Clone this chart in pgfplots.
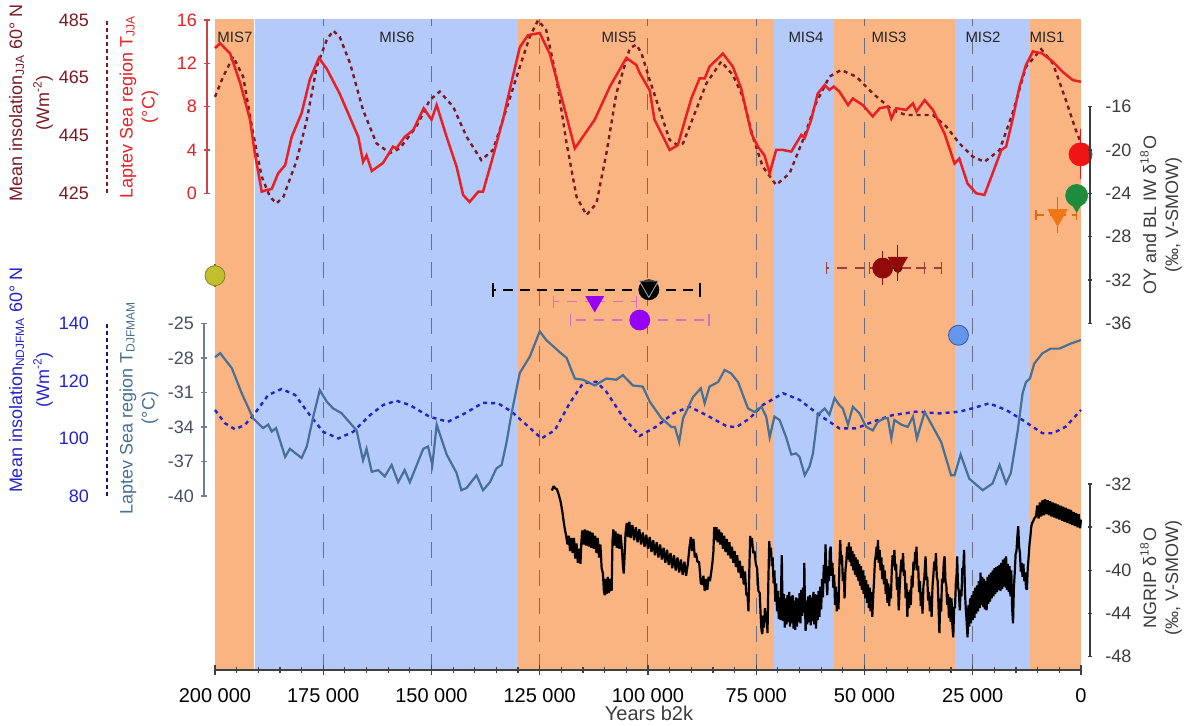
\documentclass[border=0pt]{standalone}
\usepackage{pgfplots}
\pgfplotsset{compat=1.18}
\usepackage{fontspec}
\setmainfont{Liberation Sans}
\definecolor{misO}{RGB}{250,180,130}
\definecolor{misB}{RGB}{180,202,250}
\definecolor{tred}{RGB}{232,32,36}
\definecolor{tredax}{RGB}{200,70,70}
\definecolor{insred}{RGB}{125,25,35}
\definecolor{tblue}{RGB}{70,112,150}
\definecolor{tblueax}{RGB}{110,128,150}
\definecolor{tbluelab}{RGB}{70,80,100}
\definecolor{insblue}{RGB}{35,35,205}
\definecolor{gridc}{RGB}{105,110,130}
\definecolor{axg}{RGB}{60,60,60}
\definecolor{mred}{RGB}{240,20,20}
\definecolor{mgreen}{RGB}{30,140,60}
\definecolor{morange}{RGB}{240,120,20}
\definecolor{myellow}{RGB}{195,190,45}
\definecolor{mpurple}{RGB}{150,0,245}
\definecolor{mpink}{RGB}{215,110,205}
\definecolor{mmaroon}{RGB}{145,10,10}
\definecolor{mlblue}{RGB}{100,150,240}
\pgfplotsset{
  lay/.style={at={(107.5pt,-335pt)}, anchor=south west, scale only axis,
    width=433pt, height=325.5pt, xmin=0, xmax=200, x dir=reverse, hide axis, clip=false},
  deco/.style={anchor=south west, scale only axis, width=1pt, xmin=0, xmax=1,
    hide x axis, tick align=outside, /pgf/number format/assume math mode=true,
    yticklabel style={font=\fontsize{9}{10}\selectfont}},
}
\begin{document}
\begin{tikzpicture}
\path[use as bounding box] (0pt,0pt) rectangle (592pt,-362.5pt);
% ---------- base: backgrounds, grid, x axis
\begin{axis}[at={(107.5pt,-335pt)}, anchor=south west, scale only axis,
  width=433pt, height=325.5pt, xmin=0, xmax=200, x dir=reverse, ymin=0, ymax=1,
  axis x line=bottom, axis y line=none, axis on top,
  xtick={0,25,...,200},
  xticklabels={0,25 000,50 000,75 000,100 000,125 000,150 000,175 000,200 000},
  minor x tick num=4, tick align=center, major tick length=5pt, minor tick length=3pt,
  x axis line style={-, line width=0.8pt, black!75},
  tick style={black!75, line width=0.6pt},
  xticklabel style={font=\fontsize{10}{12}\selectfont, yshift=-3pt}]
\addplot[fill=misO, draw=none] coordinates {(200,0) (191,0) (191,1) (200,1)} -- cycle;
\addplot[fill=misB, draw=none] coordinates {(190.8,0) (130,0) (130,1) (190.8,1)} -- cycle;
\addplot[fill=misO, draw=none] coordinates {(130,0) (71,0) (71,1) (130,1)} -- cycle;
\addplot[fill=misB, draw=none] coordinates {(71,0) (57,0) (57,1) (71,1)} -- cycle;
\addplot[fill=misO, draw=none] coordinates {(57,0) (29,0) (29,1) (57,1)} -- cycle;
\addplot[fill=misB, draw=none] coordinates {(29,0) (11.7,0) (11.7,1) (29,1)} -- cycle;
\addplot[fill=misO, draw=none] coordinates {(11.7,0) (0,0) (0,1) (11.7,1)} -- cycle;
\addplot[gridc, line width=0.5pt, dash pattern=on 8pt off 6pt] coordinates {(175,0) (175,1)};
\addplot[gridc, line width=0.5pt, dash pattern=on 8pt off 6pt] coordinates {(150,0) (150,1)};
\addplot[gridc, line width=0.5pt, dash pattern=on 8pt off 6pt] coordinates {(125,0) (125,1)};
\addplot[gridc, line width=0.5pt, dash pattern=on 8pt off 6pt] coordinates {(100,0) (100,1)};
\addplot[gridc, line width=0.5pt, dash pattern=on 8pt off 6pt] coordinates {(75,0) (75,1)};
\addplot[gridc, line width=0.5pt, dash pattern=on 8pt off 6pt] coordinates {(50,0) (50,1)};
\addplot[gridc, line width=0.5pt, dash pattern=on 8pt off 6pt] coordinates {(25,0) (25,1)};
\end{axis}
% ---------- insolation JJA (dotted)
\begin{axis}[lay, ymin=259.95, ymax=485.35]
\addplot[insred, line width=1.2pt, dash pattern=on 2pt off 2pt] coordinates {
(200,458.4) (198.1,465.4) (195.8,472.3) (193.5,465.4) (191.2,445.8) (189.2,430.7)
(187.3,423.8) (185.8,421.5) (184.2,423.8) (181.1,436.5) (178.8,450.4) (176.5,468.8)
(174.2,478.1) (172.7,481.3) (171.2,479.2) (168.8,470.0) (165.8,453.8) (162.7,442.3)
(159.6,438.9) (157.3,440.6) (153.5,448.1) (150.4,457.3) (148.1,460.2) (145,455.0)
(141.9,444.6) (138.5,436.5) (135.8,440.0) (133.5,450.4) (129.6,468.8) (127.3,479.2)
(125.4,484.9) (123.5,481.5) (121.2,465.4) (118.8,442.3) (116.5,423.8) (114.2,417.5)
(111.9,421.5) (109.6,438.9) (107.3,459.6) (104.2,475.2) (102.7,476.5) (101.5,473.5)
(99.6,464.2) (97.3,453.8) (95.0,443.5) (93.2,441.7) (91.9,442.3) (89.2,452.7)
(86.5,463.1) (83.1,470.6) (80.4,466.0) (78.1,458.4) (75.8,444.6) (73.5,434.2)
(70.4,427.9) (67.3,431.9) (64.2,443.5) (61.2,456.2) (58.1,465.4) (55.4,467.7)
(51.9,465.4) (48.1,459.6) (43.5,453.8) (40.4,452.1) (34.2,452.1) (31.1,448.1)
(28.1,442.3) (25,437.7) (22.3,435.9) (18.8,440.0) (15.8,452.7) (12.7,468.8)
(9.2,474.9) (6.5,470.0) (3.5,457.3) (1.2,446.9) (0,442.3)};
\end{axis}
% ---------- Laptev T JJA (solid red)
\begin{axis}[lay, ymin=-44.017, ymax=16.094]
\addplot[tred, line width=1.25pt] coordinates {
(200,13.4) (198.8,13.85) (196.5,12.9) (194.2,10.2) (191.9,6.8) (190.8,3.7)
(189.2,0.15) (188.1,0.3) (186.9,0.4) (185.4,1.85) (183.8,2.6) (182.3,5.2)
(180,7.4) (178.1,10.5) (176,12.5) (174.2,11.5) (171.2,9.2) (166.9,5.2)
(165.8,2.9) (165,3.5) (163.8,2.06) (161.2,2.8) (158.9,4.3) (158.1,4.15)
(156.2,5.2) (154.2,5.85) (151.8,7.85) (150,6.8) (148.8,8.15) (146.5,5.2)
(144.2,2.45) (142.7,-0.15) (141.2,-0.8) (139.2,0.15) (138.1,0.15) (135.8,3.4)
(133.5,6.8) (131.5,10.3) (129.6,13.5) (127.7,14.6) (125,14.8) (122.7,12.9)
(119.6,8.3) (116.9,4.15) (112.3,6.8) (108.8,9.85) (105,12.5) (102.7,11.85)
(101.9,11.1) (99.6,9.5) (98.5,6.8) (95,4.0) (93.1,4.45) (91.9,6.15) (90,8.75)
(88.1,10.6) (86.9,10.6) (85.8,11.7) (82.7,12.9) (80.4,11.7) (78.5,9.7)
(76.1,5.5) (74.6,4.3) (73.1,3.5) (71.9,1.85) (70.4,4.0) (68.8,4.0) (66.9,3.85)
(64.6,5.4) (63.8,5.1) (62.3,6.8) (60.8,9.2) (59.2,10.0) (58.1,9.55) (57.1,9.85)
(55.8,9.4) (53.8,8.15) (52.7,8.75) (50.4,8.15) (48.1,7.1) (46.5,7.85) (44.6,8.0)
(43.8,6.9) (42.7,7.85) (40.4,7.7) (38.8,8.3) (38,7.55) (36.1,8.6) (34.2,7.7)
(31.5,5.5) (29.2,2.75) (28.1,3.2) (26.2,0.9) (24.2,0) (22.3,-0.15) (20.4,1.85)
(18.4,4.0) (17.3,4.3) (15.8,6.8) (14.2,9.85) (12.7,11.85) (11.1,13.1) (8.9,12.9)
(6.5,12.15) (4.2,11.2) (1.9,10.45) (0,10.3)};
\end{axis}
% ---------- insolation NDJFMA (dotted blue)
\begin{axis}[lay, ymin=19.55, ymax=245.72]
\addplot[insblue, line width=1.2pt, dash pattern=on 2pt off 2pt] coordinates {
(200,109.9) (197.7,105.3) (195.4,103.2) (193.1,104.7) (190.8,108.7) (187.7,115.1)
(184.6,117.2) (181.5,115.1) (178.1,108.1) (175,102.3) (171.5,100.0) (168.1,102.3)
(164.2,108.1) (161.2,111.6) (158.1,113.1) (155,111.6) (150.4,107.5) (146.2,105.8)
(142.3,108.7) (138.1,112.4) (134.6,112.2) (131.5,109.3) (128.5,105.3) (124.6,100.0)
(121.5,102.9) (118.1,112.2) (115,119.2) (111.9,119.7) (109.6,116.2) (105.8,107.5)
(101.9,100.9) (98.1,104.1) (94.2,108.7) (90.4,111.0) (86.5,108.1) (81.9,104.3)
(79.6,103.9) (76.5,107.0) (73.5,111.6) (68.8,115.7) (65,113.4) (60.4,108.1)
(55.8,103.5) (51.9,103.5) (48.1,105.8) (43.5,108.1) (38.1,109.3) (32.7,108.7)
(28.1,109.3) (25,110.5) (21.2,112.2) (17.3,109.9) (13.5,106.4) (8.9,101.8)
(6.5,101.8) (3.5,104.1) (0,109.9)};
\end{axis}
% ---------- Laptev T DJFMAM (steel blue)
\begin{axis}[lay, ymin=-55.114, ymax=1.431]
\addplot[tblue, line width=1.1pt] coordinates {
(200,-27.95) (198.8,-27.6) (196.1,-28.9) (193.8,-31.1) (191.2,-33.25) (188.9,-34.1)
(187.7,-33.8) (186.9,-34.4) (185.9,-34.1) (183.8,-36.6) (182.7,-35.9) (180,-36.7)
(178.8,-35.7) (177.3,-33.1) (175.8,-30.8) (174.2,-31.8) (172.7,-32.4) (170.8,-32.8)
(167.3,-34.3) (165.8,-36.9) (165,-35.9) (163.8,-37.9) (162.3,-37.75) (160.8,-38.3)
(159.2,-37.3) (157.7,-38.8) (156.2,-37.75) (155,-38.8) (151.9,-35.9) (150.8,-35.7)
(149.8,-37.3) (148.8,-33.8) (146.5,-36.4) (144.2,-38.0) (143.1,-39.5) (141.9,-39.3)
(139.6,-38.2) (138.1,-39.5) (136.5,-38.8) (135,-37.6) (133.8,-37.3) (132.7,-35.4)
(131.5,-32.8) (129.6,-29.3) (127.3,-27.9) (125,-25.7) (123.5,-26.45) (120.4,-27.5)
(118.8,-28.0) (116.9,-29.8) (115,-29.9) (112.3,-30.4) (109.6,-29.8) (107.3,-29.9)
(105.8,-29.5) (103.5,-30.4) (101.2,-30.5) (99.6,-31.8) (96.9,-33.25) (94.6,-34.0)
(93.8,-34.0) (92.8,-35.3) (91.9,-33.25) (89.6,-31.4) (87.8,-30.65) (86.9,-31.95)
(85.8,-30.5) (83.8,-30.1) (82.3,-29.05) (80.8,-29.35) (79.2,-30.1) (76.9,-32.4)
(75.4,-32.7) (73.8,-32.25) (72.7,-33.1) (71.9,-34.9) (70.8,-33.1) (69.6,-33.4)
(68.1,-34.9) (66.9,-36.4) (65.8,-36.3) (65,-36.6) (63.8,-38.2) (62.7,-37.45)
(61.9,-36.3) (60.8,-32.95) (59.2,-32.4) (58.1,-32.95) (56.9,-31.5) (55.8,-32.1)
(55,-32.4) (53.8,-33.8) (52.7,-32.25) (51.2,-32.8) (49.6,-34.0) (48.1,-34.3)
(46.9,-33.55) (45.4,-33.25) (44.6,-33.25) (43.8,-35.0) (43.1,-33.4) (41.5,-33.8)
(40,-34.0) (38.8,-33.1) (37.9,-35.0) (36.1,-32.7) (34.2,-34.0) (32.3,-35.3)
(30,-38.2) (29.2,-38.2) (27.8,-36.4) (25.8,-38.5) (22.7,-39.5) (20.4,-38.9)
(18.8,-37.3) (17.3,-38.9) (16.2,-38.0) (14.6,-34.3) (13.5,-31.1) (12.7,-30.1)
(11.8,-29.8) (10.8,-28.5) (8.9,-27.6) (7,-27.2) (5,-27.2) (2.3,-26.75) (0,-26.45)};
\end{axis}
% ---------- NGRIP d18O
\begin{axis}[lay, ymin=-49.23, ymax=11.08]
\addplot[black, line width=1.1pt, line join=bevel] coordinates {
(122.2,-32.6) (121.8,-32.2) (121.4,-32.4) (121.0,-32.5) (120.6,-33.0) (120.2,-33.6)
(119.8,-34.5) (119.5,-35.4) (119.2,-36.2) (118.9,-36.8) (118.6,-37.6) (118.3,-36.8)
(118.0,-38.2) (117.7,-37.0) (117.4,-38.4) (117.1,-37.0) (116.8,-38.9) (116.5,-37.5)
(116.2,-39.3) (115.9,-38.0) (115.6,-39.4) (115.4,-37.5) (115.2,-36.3) (114.9,-37.6)
(114.6,-36.2) (114.3,-37.7) (114.0,-36.3) (113.7,-37.8) (113.4,-36.4) (113.1,-37.9)
(112.8,-36.5) (112.5,-38.0) (112.2,-36.8) (111.9,-38.4) (111.6,-37.0) (111.3,-38.8)
(111.0,-37.6) (110.7,-39.8) (110.4,-40.3) (110.2,-41.8) (110.0,-42.3) (109.8,-40.8)
(109.6,-42.2) (109.3,-40.6) (109.0,-42.1) (108.7,-40.8) (108.4,-41.9) (108.2,-37.3)
(108.0,-36.2) (107.8,-37.7) (107.5,-36.4) (107.2,-37.9) (106.9,-36.6) (106.6,-38.0)
(106.3,-36.7) (106.0,-38.2) (105.8,-39.5) (105.6,-40.3) (105.4,-38.6) (105.2,-36.6)
(104.9,-35.6) (104.6,-36.9) (104.3,-35.5) (104.0,-37.0) (103.6,-35.8) (103.2,-37.2)
(102.8,-36.0) (102.4,-37.4) (102.0,-36.2) (101.6,-37.6) (101.2,-36.5) (100.8,-37.8)
(100.4,-36.7) (100.0,-38.0) (99.6,-36.9) (99.2,-38.3) (98.8,-37.2) (98.4,-38.6)
(98.0,-37.4) (97.6,-38.8) (97.2,-37.6) (96.8,-39.0) (96.4,-37.9) (96.0,-39.3)
(95.6,-38.1) (95.2,-39.5) (94.8,-38.4) (94.4,-39.8) (94.0,-38.6) (93.6,-40.0)
(93.2,-38.8) (92.8,-40.2) (92.4,-39.0) (92.0,-40.4) (91.6,-39.2) (91.2,-40.5)
(90.8,-39.4) (90.4,-37.8) (90.1,-36.9) (89.8,-38.2) (89.5,-37.1) (89.2,-38.8)
(88.9,-38.4) (88.6,-39.2) (88.2,-39.2) (87.8,-41.2) (87.5,-41.3) (87.2,-40.5)
(86.9,-41.9) (86.6,-40.8) (86.3,-41.8) (86.0,-40.6) (85.7,-41.0) (85.4,-40.2)
(85.1,-39.2) (84.9,-38.3) (84.7,-36.0) (84.5,-37.2) (84.2,-36.0) (83.9,-37.4)
(83.6,-36.2) (83.3,-37.6) (83.0,-36.5) (82.7,-38.0) (82.4,-36.8) (82.1,-38.3)
(81.8,-37.1) (81.5,-38.6) (81.2,-37.4) (80.9,-38.9) (80.6,-37.8) (80.3,-39.3)
(80.0,-38.2) (79.7,-39.7) (79.4,-38.6) (79.1,-40.2) (78.8,-39.1) (78.5,-40.7)
(78.2,-39.6) (77.9,-41.3) (77.6,-40.1) (77.3,-42.2) (77.0,-42.4) (76.8,-43.8)
(76.6,-40.0) (76.4,-36.8) (76.2,-37.8) (76.0,-37.0) (75.7,-38.4) (75.4,-38.2)
(75.1,-39.4) (74.8,-39.8) (74.5,-41.9) (74.2,-42.1) (74.0,-44.0) (73.8,-45.5)
(73.6,-45.9) (73.4,-44.2) (73.2,-45.3) (73.0,-43.5) (72.8,-44.8) (72.6,-43.8)
(72.4,-45.8) (72.2,-41.0) (72.0,-37.3) (71.8,-38.6) (71.6,-37.9) (71.4,-39.6)
(71.2,-38.8) (71.0,-41.2) (70.8,-40.0) (70.6,-42.9) (70.4,-41.2) (70.2,-43.8)
(70.0,-41.9) (69.8,-44.5) (69.6,-42.5) (69.4,-44.6) (69.2,-40.5) (69.1,-38.6)
(69.0,-41.5) (68.8,-44.7) (68.6,-42.2) (68.4,-45.3) (68.2,-42.6) (68.0,-45.0)
(67.8,-42.3) (67.6,-44.8) (67.4,-42.0) (67.2,-45.2) (67.0,-42.4) (66.8,-44.9)
(66.6,-42.3) (66.4,-45.4) (66.2,-42.8) (66.0,-45.5) (65.8,-42.5) (65.6,-45.2)
(65.4,-42.6) (65.2,-44.8) (65.0,-42.1) (64.8,-44.9) (64.6,-41.8) (64.4,-44.2)
(64.2,-41.6) (64.0,-43.9) (63.9,-39.3) (63.8,-42.0) (63.6,-45.6) (63.4,-42.8)
(63.2,-45.0) (63.0,-42.4) (62.8,-44.8) (62.6,-42.3) (62.4,-45.1) (62.2,-42.5)
(62.0,-44.7) (61.8,-42.0) (61.6,-45.0) (61.4,-42.2) (61.2,-45.4) (61.0,-42.3)
(60.8,-44.6) (60.6,-41.9) (60.4,-44.3) (60.2,-41.5) (60.0,-43.6) (59.8,-40.8)
(59.6,-42.5) (59.4,-39.5) (59.2,-41.2) (59.0,-37.6) (58.8,-40.6) (58.6,-42.3)
(58.4,-39.6) (58.2,-41.0) (58.0,-38.2) (57.8,-37.8) (57.6,-40.5) (57.4,-39.3)
(57.2,-41.6) (57.0,-40.4) (56.8,-43.2) (56.6,-41.5) (56.4,-43.8) (56.2,-42.0)
(56.0,-43.6) (55.8,-39.5) (55.6,-37.2) (55.4,-39.4) (55.2,-38.6) (55.0,-41.0)
(54.8,-40.2) (54.6,-42.6) (54.4,-40.0) (54.2,-39.2) (54.0,-37.8) (53.8,-39.0)
(53.6,-37.4) (53.4,-39.2) (53.2,-37.8) (53.0,-39.6) (52.8,-38.2) (52.6,-40.0)
(52.4,-38.5) (52.2,-40.4) (52.0,-38.8) (51.8,-40.6) (51.6,-39.0) (51.4,-41.0)
(51.2,-39.4) (51.0,-41.4) (50.8,-39.6) (50.6,-41.8) (50.4,-40.0) (50.2,-42.2)
(50.0,-40.5) (49.8,-42.6) (49.6,-40.9) (49.4,-43.0) (49.2,-41.3) (49.0,-43.5)
(48.8,-41.6) (48.6,-43.8) (48.4,-42.0) (48.2,-44.3) (48.0,-42.5) (47.8,-41.0)
(47.6,-39.2) (47.4,-38.6) (47.2,-37.8) (47.0,-39.0) (46.9,-37.2) (46.7,-39.3)
(46.5,-38.1) (46.3,-40.0) (46.1,-38.8) (45.9,-40.8) (45.7,-39.5) (45.5,-41.3)
(45.3,-40.0) (45.1,-42.2) (44.9,-40.8) (44.7,-43.0) (44.5,-41.2) (44.3,-43.3)
(44.1,-41.6) (43.9,-42.6) (43.7,-40.0) (43.5,-38.6) (43.3,-39.6) (43.1,-38.1)
(42.9,-40.0) (42.7,-39.4) (42.5,-41.8) (42.3,-40.6) (42.1,-43.7) (41.9,-41.8)
(41.7,-40.2) (41.5,-39.0) (41.3,-40.1) (41.1,-38.4) (40.9,-40.5) (40.7,-40.0)
(40.5,-42.6) (40.3,-41.2) (40.1,-44.3) (39.9,-42.0) (39.7,-43.5) (39.5,-41.8)
(39.3,-43.2) (39.1,-40.5) (38.9,-41.6) (38.7,-39.2) (38.5,-40.0) (38.3,-38.3)
(38.1,-39.0) (38.0,-37.8) (37.8,-40.0) (37.6,-39.6) (37.4,-42.0) (37.2,-41.0)
(37.0,-43.3) (36.8,-42.0) (36.6,-44.0) (36.4,-41.5) (36.2,-40.8) (36.0,-39.4)
(35.9,-38.7) (35.7,-40.9) (35.5,-40.6) (35.3,-42.8) (35.1,-42.0) (34.9,-43.8)
(34.7,-42.4) (34.5,-44.3) (34.3,-41.5) (34.1,-40.5) (33.9,-39.2) (33.7,-40.0)
(33.5,-38.4) (33.3,-40.6) (33.1,-41.0) (32.9,-43.4) (32.7,-45.8) (32.5,-42.6)
(32.3,-43.8) (32.1,-40.8) (31.9,-41.2) (31.7,-39.3) (31.5,-38.7) (31.3,-41.0)
(31.1,-41.4) (30.9,-43.2) (30.7,-42.2) (30.5,-44.4) (30.3,-42.5) (30.1,-44.8)
(29.9,-42.6) (29.7,-45.2) (29.5,-46.2) (29.3,-43.4) (29.1,-43.5) (28.9,-41.2)
(28.7,-40.2) (28.6,-38.7) (28.4,-41.5) (28.2,-42.0) (28.0,-43.7) (27.8,-41.8)
(27.6,-42.4) (27.4,-39.8) (27.2,-39.9) (27.0,-38.1) (26.8,-42.0) (26.6,-43.6)
(26.4,-44.8) (26.2,-46.2) (26.0,-43.2) (25.8,-45.2) (25.6,-42.6) (25.4,-44.9)
(25.2,-42.3) (25.0,-44.6) (24.8,-41.9) (24.6,-44.4) (24.4,-41.6) (24.2,-44.0)
(24.0,-41.4) (23.8,-43.8) (23.6,-41.0) (23.4,-43.5) (23.2,-40.2) (23.0,-43.2)
(22.8,-40.6) (22.6,-43.4) (22.4,-40.8) (22.2,-43.6) (22.0,-41.0) (21.8,-43.7)
(21.6,-40.6) (21.4,-43.1) (21.2,-40.4) (21.0,-42.9) (20.8,-40.2) (20.6,-42.6)
(20.4,-40.0) (20.2,-42.4) (20.0,-39.8) (19.8,-42.2) (19.6,-39.7) (19.4,-42.0)
(19.2,-39.6) (19.0,-41.8) (18.8,-39.5) (18.6,-41.9) (18.4,-39.3) (18.2,-41.7)
(18.0,-39.0) (17.8,-41.5) (17.6,-38.9) (17.4,-41.6) (17.3,-38.7) (17.1,-41.8)
(16.9,-39.4) (16.7,-42.0) (16.5,-39.6) (16.3,-42.4) (16.1,-40.0) (15.9,-43.5)
(15.7,-44.9) (15.5,-41.6) (15.3,-40.2) (15.1,-38.5) (14.9,-38.2) (14.7,-36.9)
(14.5,-35.9) (14.3,-37.8) (14.1,-38.4) (13.9,-40.1) (13.7,-39.3) (13.5,-40.6)
(13.3,-39.4) (13.1,-41.0) (12.9,-40.2) (12.7,-41.6) (12.5,-41.8) (12.3,-39.8)
(12.1,-38.8) (11.9,-37.6) (11.7,-36.9) (11.5,-36.0) (11.3,-35.6) (11.1,-35.5)
(10.8,-35.2) (10.4,-35.0) (10.1,-34.0) (9.8,-35.2) (9.5,-33.7) (9.2,-35.0)
(8.9,-33.5) (8.6,-34.9) (8.3,-33.4) (8.0,-34.8) (7.7,-33.5) (7.4,-34.9)
(7.1,-33.6) (6.8,-35.0) (6.5,-33.7) (6.2,-35.1) (5.9,-33.8) (5.6,-35.2)
(5.3,-33.9) (5.0,-35.3) (4.7,-34.0) (4.4,-35.4) (4.1,-34.1) (3.8,-35.5)
(3.5,-34.2) (3.2,-35.6) (2.9,-34.3) (2.6,-35.7) (2.3,-34.4) (2.0,-35.8)
(1.7,-34.6) (1.4,-35.9) (1.1,-34.7) (0.8,-36.0) (0.5,-34.8) (0.2,-36.1) (0.0,-35.3)};
\end{axis}
% ---------- OY and BL IW d18O markers
\begin{axis}[lay, ymin=-68.013, ymax=-7.902]
\addplot[only marks, mark=none, error bars/.cd, x dir=both, x explicit, error mark=|,
  error bar style={black, line width=1pt, dash pattern=on 5pt off 3.5pt},
  error mark options={black, solid, line width=1pt, mark size=3.5pt, rotate=0}]
  coordinates {(99.8,-32.9) += (36.0,0) -= (11.7,0)};
\addplot[only marks, mark=none, error bars/.cd, x dir=both, x explicit, error mark=|,
  error bar style={mpink, line width=0.6pt, dash pattern=on 5pt off 4pt},
  error mark options={mpink, solid, line width=0.6pt, mark size=3pt, rotate=0}]
  coordinates {(112.3,-34.0) += (9.6,0) -= (9.6,0) (101.9,-35.7) += (16,0) -= (16,0)};
\addplot[only marks, mark=none, error bars/.cd, x dir=both, x explicit, error mark=|,
  error bar style={mmaroon!80, line width=0.6pt, dash pattern=on 5pt off 4pt},
  error mark options={mmaroon!80, solid, line width=0.6pt, mark size=3pt, rotate=0}]
  coordinates {(45.8,-30.9) += (13.0,0) -= (9.7,0) (42.3,-30.9) += (6.5,0) -= (10.0,0)};
\addplot[only marks, mark=none, error bars/.cd, x dir=both, x explicit, error mark=|,
  error bar style={morange!90!black, line width=0.6pt, dash pattern=on 4pt off 3pt},
  error mark options={morange!90!black, solid, line width=0.6pt, mark size=2.5pt, rotate=0}]
  coordinates {(5.4,-26.0) += (5.0,0) -= (4.4,0)};
\addplot[only marks, mark=*, mark size=5pt, myellow, mark options={draw=myellow!70!black},
  error bars/.cd, y dir=both, y explicit,
  error bar style={myellow!60!black, line width=0.6pt},
  error mark options={myellow!60!black, line width=0.6pt, mark size=2.5pt}]
  coordinates {(200,-31.6) +- (0,0.6)};
\addplot[only marks, mark=*, mark size=5pt, black] coordinates {(99.8,-32.9)};
\addplot[only marks, mark=triangle*, mark size=5.5pt, black,
  mark options={rotate=180, draw=gray!60}] coordinates {(99.8,-32.6)};
\addplot[only marks, mark=triangle*, mark size=5pt, mpurple,
  mark options={rotate=180}] coordinates {(112.3,-34.0)};
\addplot[only marks, mark=*, mark size=5pt, mpurple] coordinates {(101.9,-35.7)};
\addplot[only marks, mark=*, mark size=5pt, mmaroon,
  error bars/.cd, y dir=both, y explicit,
  error bar style={mmaroon, line width=0.6pt},
  error mark options={mmaroon, line width=0.6pt, mark size=2.5pt}]
  coordinates {(45.8,-30.9) +- (0,1.1)};
\addplot[only marks, mark=triangle*, mark size=5.5pt, mmaroon, mark options={rotate=180},
  error bars/.cd, y dir=both, y explicit,
  error bar style={mmaroon, line width=0.6pt},
  error mark options={mmaroon, line width=0.6pt, mark size=2.5pt}]
  coordinates {(42.3,-30.4) +- (0,1.2)};
\addplot[only marks, mark=*, mark size=5pt, mlblue, mark options={draw=mlblue!60!black, line width=0.4pt}]
  coordinates {(28.3,-37.1)};
\addplot[only marks, mark=triangle*, mark size=5.5pt, morange, mark options={rotate=180},
  error bars/.cd, y dir=both, y explicit,
  error bar style={morange!90!black, line width=0.6pt},
  error mark options={morange!90!black, line width=0.6pt, mark size=2.5pt}]
  coordinates {(5.4,-26.0) +- (0,1.2)};
\addplot[only marks, mark=triangle*, mark size=4pt, mgreen, mark options={rotate=180}]
  coordinates {(1.0,-25.0)};
\addplot[only marks, mark=*, mark size=5.5pt, mgreen] coordinates {(1.0,-24.2)};
\addplot[only marks, mark=*, mark size=5.75pt, mred,
  error bars/.cd, y dir=both, y explicit,
  error bar style={mred, line width=0.7pt},
  error mark options={mred, line width=0.7pt, mark size=3.5pt}]
  coordinates {(0.1,-20.4) +- (0,1.65)};
\end{axis}
% ---------- decorative y axes
\begin{axis}[deco, at={(103.5pt,-96.65pt)}, height=86.65pt, ymin=0, ymax=16,
  ytick={0,4,8,12,16}, axis y line=left,
  y axis line style={-, draw=tredax, line width=0.7pt},
  ytick style={draw=tredax, line width=0.7pt}, major tick length=3pt,
  yticklabel style={text=tred}]
\end{axis}
\begin{axis}[deco, at={(53.5pt,-96.65pt)}, height=86.65pt, ymin=425, ymax=485,
  ytick={425,445,465,485}, axis y line=left,
  y axis line style={-, draw=insred, line width=0.6pt, dash pattern=on 2pt off 1.5pt},
  major tick length=0pt, yticklabel style={text=insred, xshift=-5.5pt}]
\end{axis}
\begin{axis}[deco, at={(102pt,-248pt)}, height=86.35pt, ymin=-40, ymax=-25,
  ytick={-40,-37,-34,-31,-28,-25}, axis y line=left,
  y axis line style={-, draw=tblueax, line width=0.7pt},
  ytick style={draw=tblueax, line width=0.7pt}, major tick length=3pt,
  yticklabel style={text=tbluelab}]
\end{axis}
\begin{axis}[deco, at={(53.5pt,-248pt)}, height=86.35pt, ymin=80, ymax=140,
  ytick={80,100,120,140}, axis y line=left,
  y axis line style={-, draw=insblue!60!black, line width=0.6pt, dash pattern=on 2pt off 1.5pt},
  major tick length=0pt, yticklabel style={text=insblue, xshift=-5.5pt}]
\end{axis}
\begin{axis}[deco, at={(544pt,-161.65pt)}, height=108.3pt, ymin=-36, ymax=-16,
  ytick={-36,-32,-28,-24,-20,-16}, axis y line=right,
  y axis line style={-, draw=axg, line width=0.7pt},
  ytick style={draw=axg, line width=0.7pt}, major tick length=2.2pt,
  yticklabel style={text=axg, xshift=3pt}]
\end{axis}
\begin{axis}[deco, at={(544pt,-328.35pt)}, height=86.35pt, ymin=-48, ymax=-32,
  ytick={-48,-44,-40,-36,-32}, axis y line=right,
  y axis line style={-, draw=axg, line width=0.7pt},
  ytick style={draw=axg, line width=0.7pt}, major tick length=2.2pt,
  yticklabel style={text=axg, xshift=3pt}]
\end{axis}
% ---------- texts (pixel coordinates)
\begin{scope}[x=0.5pt, y=-0.5pt]
\node[rotate=90, align=center, text=insred, font=\fontsize{9}{13.5}\selectfont]
  at (31,103) {Mean insolation\textsubscript{JJA} 60° N\\(Wm\textsuperscript{-2})};
\node[rotate=90, align=center, text=tred, font=\fontsize{9}{11}\selectfont]
  at (139,107) {Laptev Sea region T\textsubscript{JJA}\\(°C)};
\node[rotate=90, align=center, text=insblue, font=\fontsize{9}{13.5}\selectfont]
  at (31,380) {Mean insolation\textsubscript{NDJFMA} 60° N\\(Wm\textsuperscript{-2})};
\node[rotate=90, align=center, text=tblue, font=\fontsize{9}{11}\selectfont]
  at (139,408) {Laptev Sea region T\textsubscript{DJFMAM}\\(°C)};
\node[rotate=90, align=center, text=axg, font=\fontsize{9}{11}\selectfont]
  at (1161,215) {OY and BL IW δ\textsuperscript{18}O\\(‰, V-SMOW)};
\node[rotate=90, align=center, text=axg, font=\fontsize{9}{11}\selectfont]
  at (1161,578) {NGRIP δ\textsuperscript{18}O\\(‰, V-SMOW)};
\node[text=axg, font=\fontsize{10}{12}\selectfont] at (649,713) {Years b2k};
\foreach \xx/\tt in {235/MIS7, 397/MIS6, 619/MIS5, 806/MIS4, 889/MIS3, 983/MIS2, 1047/MIS1}
  \node[text=black!85, font=\fontsize{7.5}{9}\selectfont] at (\xx,37) {\tt};
\end{scope}
\end{tikzpicture}
\end{document}
